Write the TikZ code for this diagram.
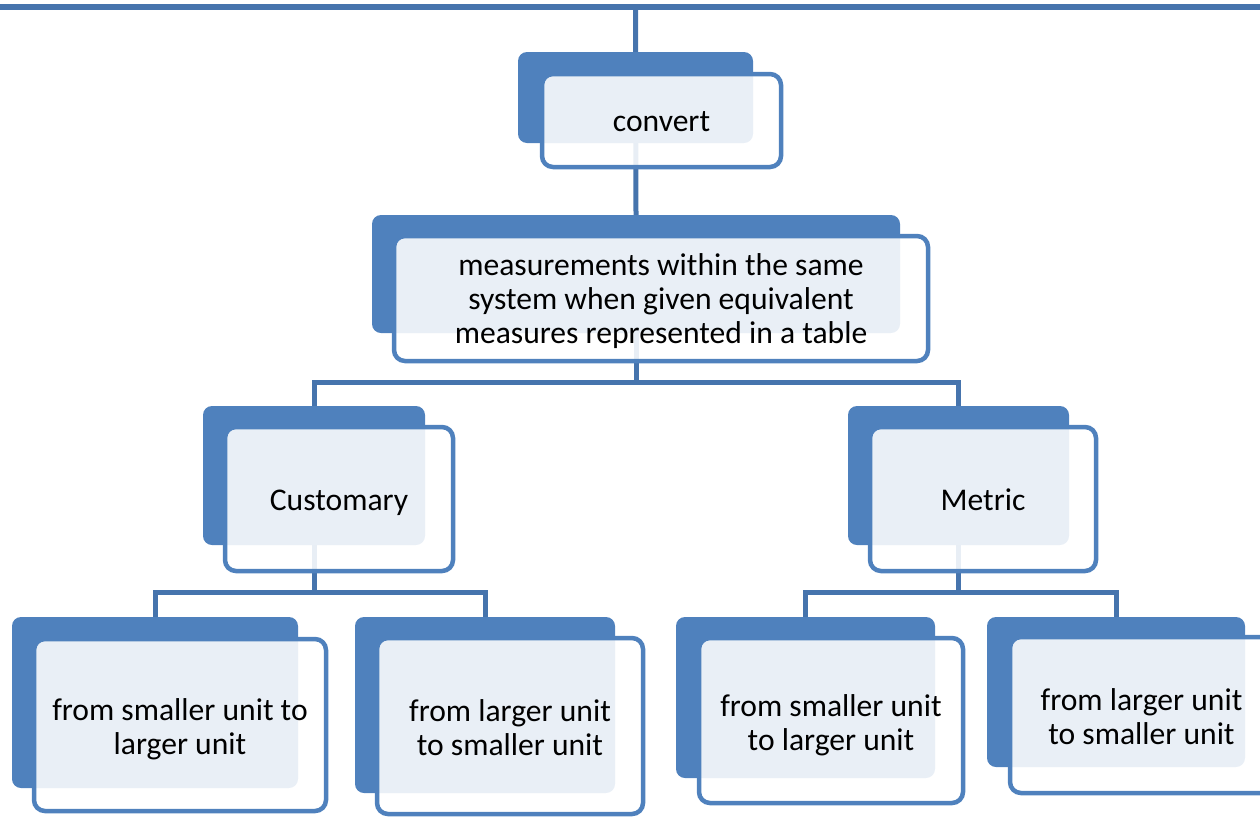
\documentclass[tikz,border=0pt]{standalone}
\usepackage{fontspec}
\setmainfont{Carlito}
\usepackage{tikz}
\usetikzlibrary{backgrounds}

\definecolor{boxblue}{HTML}{4F81BD}
\definecolor{lineblue}{HTML}{4674AD}

\begin{document}
\begin{tikzpicture}[x=1pt,y=-1pt,
    back_node/.style={rectangle,rounded corners=9pt,fill=boxblue,inner sep=0pt,outer sep=0pt},
    main_node/.style={rectangle,rounded corners=11pt,draw=boxblue,line width=4.5pt,fill=white,fill opacity=0.88,text opacity=1,
        inner sep=0pt,outer sep=0pt,align=center,font=\fontsize{31.6}{34}\selectfont,
        execute at begin node={\rule{0pt}{#1}},execute at end node={\rule[-9pt]{0pt}{0pt}}},
    main_node/.default=31pt,
    link/.style={draw=lineblue,line width=5pt}]
    \useasboundingbox (0,0) rectangle (1260,817);

	    \node[back_node,minimum width=235pt,minimum height=91pt] (1b) at (635.5,97.5) {};
	    \node[main_node,minimum width=239pt,minimum height=93pt] (1) at (661.5,120.5) {convert};
	    \node[back_node,minimum width=528pt,minimum height=118pt] (2b) at (636,274) {};
	    \node[main_node=98pt,minimum width=534pt,minimum height=125pt] (2) at (661,298.5) {measurements within the same\\system when given equivalent\\measures represented in a table};
	    \node[back_node,minimum width=222pt,minimum height=139pt] (3b) at (314,475.5) {};
	    \node[main_node,minimum width=228pt,minimum height=144pt] (3) at (339,499) {Customary};
	    \node[back_node,minimum width=221pt,minimum height=139pt] (4b) at (958.5,475.5) {};
	    \node[main_node,minimum width=226pt,minimum height=144pt] (4) at (983,499) {Metric};
	    \node[back_node,minimum width=286pt,minimum height=171pt] (5b) at (155,702.5) {};
	    \node[main_node=68pt,minimum width=292pt,minimum height=172pt] (5) at (180,725) {from smaller unit to\\larger unit};
	    \node[back_node,minimum width=260pt,minimum height=176pt] (6b) at (485,705) {};
	    \node[main_node=68pt,minimum width=266pt,minimum height=176pt] (6) at (510,726) {from larger unit\\to smaller unit};
	    \node[back_node,minimum width=259pt,minimum height=161pt] (7b) at (805.5,697.5) {};
	    \node[main_node=68pt,minimum width=264pt,minimum height=165pt] (7) at (831,720.5) {from smaller unit\\to larger unit};
	    \node[back_node,minimum width=258pt,minimum height=150pt] (8b) at (1116,692) {};
	    \node[main_node=68pt,minimum width=263pt,minimum height=156pt] (8) at (1141.5,715) {from larger unit\\to smaller unit};

	    \coordinate (tl) at (-5,7);
	    \coordinate (tr) at (1265,7);
	    \coordinate (f2) at (636,382);
	    \coordinate (f3) at (314,592);
	    \coordinate (f4) at (958.5,592);

	    \begin{scope}[on background layer]
	    \draw[link,line width=5.5pt] (tl) -- (tr);
	    \draw[link] (1b.north |- tl) -- (2b.north);
	    \draw[link] (2b.south) -- (f2);
	    \draw[link] (3b.north) |- (f2) -| (4b.north);
	    \draw[link] (3b.south) -- (f3);
	    \draw[link] (5b.north) |- (f3) -| (6b.north);
	    \draw[link] (4b.south) -- (f4);
	    \draw[link] (7b.north) |- (f4) -| (8b.north);
	    \end{scope}
    \end{tikzpicture}
\end{document}
